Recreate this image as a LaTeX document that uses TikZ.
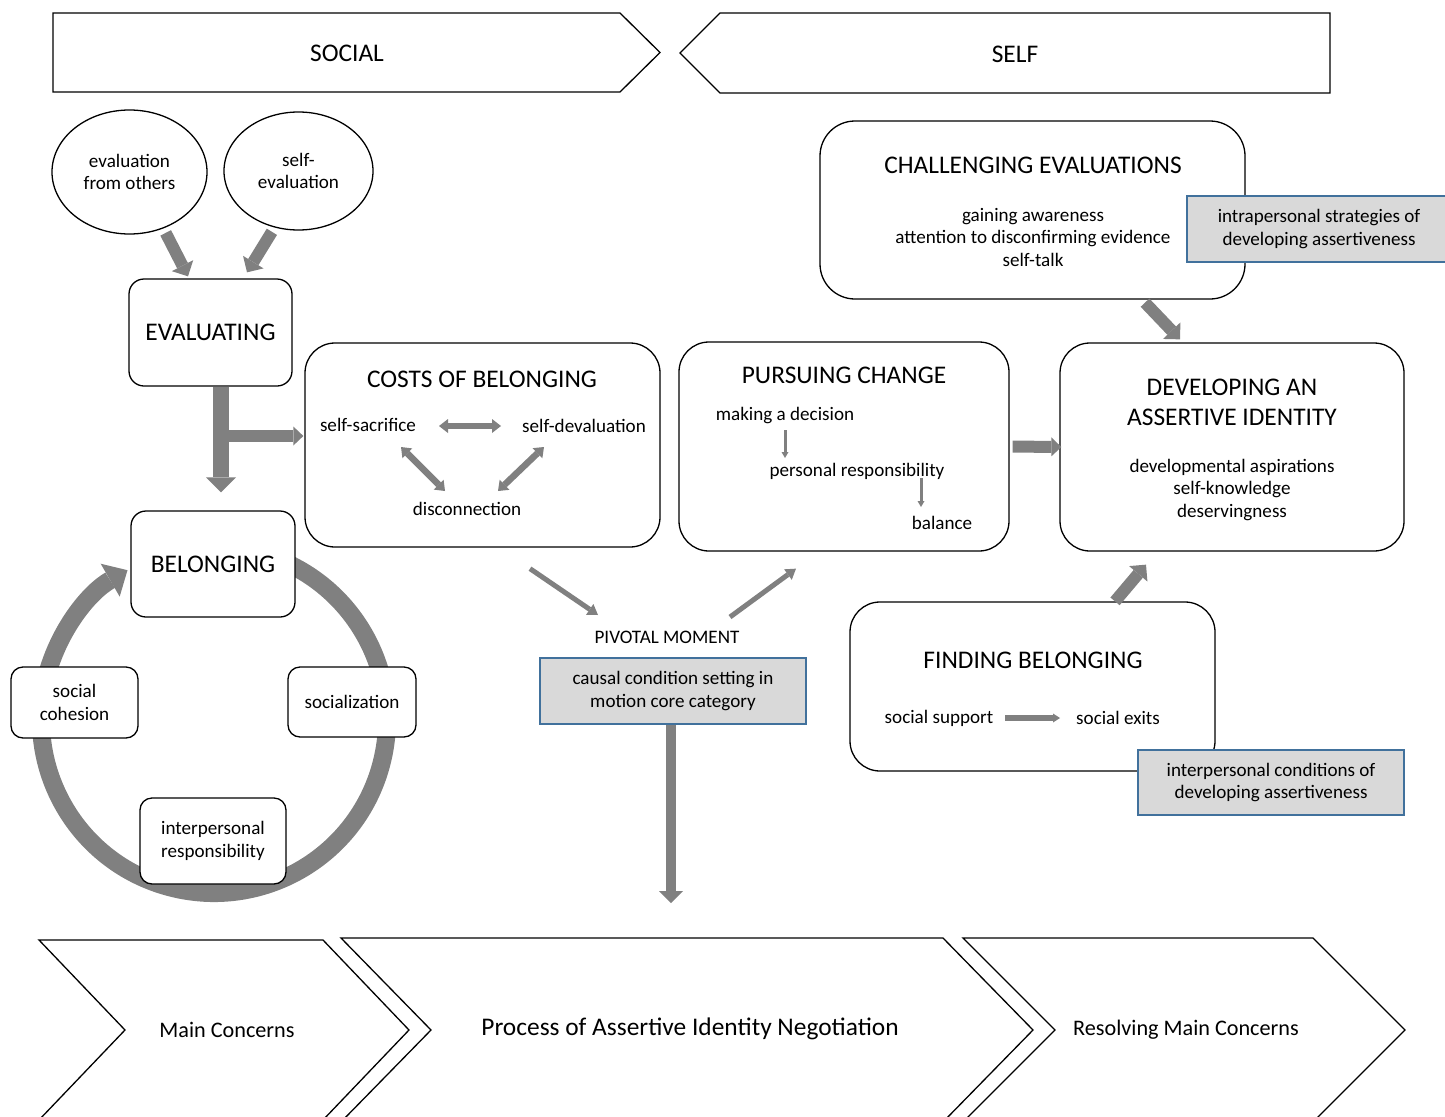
\documentclass[tikz,border=0pt]{standalone}
\usepackage{fontspec}
\setmainfont{Carlito}
\usetikzlibrary{arrows.meta,shapes.geometric,calc}
\definecolor{arrowgray}{HTML}{808080}
\definecolor{boxgray}{HTML}{D9D9D9}
\definecolor{boxblue}{HTML}{41719C}
\newcommand\bodyfont{\fontsize{19.1}{22.5}\selectfont}
\newcommand\titlefont{\fontsize{25.4}{30}\selectfont}
\newcommand\chevfont{\fontsize{22.2}{26}\selectfont}
\begin{document}
\begin{tikzpicture}[x=1pt,y=-1pt,
  outl/.style={draw=black,line width=1.3pt},
  rbox/.style={draw=black,line width=1.3pt,fill=white,rounded corners=#1,inner sep=0pt},
  rbox/.default=30pt,
  gbox/.style={draw=boxblue,line width=1.4pt,fill=boxgray,align=center,inner sep=0pt,font=\bodyfont},
  txt/.style={font=\bodyfont,align=center,inner sep=0pt},
  ttl/.style={font=\titlefont,align=center,inner sep=0pt},
  ctxt/.style={font=\chevfont,align=center,inner sep=0pt},
  fatarrow/.style={draw=arrowgray,line width=16pt,-{Triangle[length=15pt,width=30pt,line width=0pt]}},
  midarrow/.style={draw=arrowgray,line width=12pt,-{Triangle[length=12pt,width=24pt,line width=0pt]}},
  medarrow/.style={draw=arrowgray,line width=12pt,-{Triangle[length=10pt,width=19pt,line width=0pt]}},
  thinarrow/.style={draw=arrowgray,line width=5pt,-{Triangle[length=10pt,width=13pt,line width=0pt]}},
  downarrow/.style={draw=arrowgray,line width=10.5pt,-{Triangle[length=12pt,width=24pt,line width=0pt]}},
  tinyarrow/.style={draw=arrowgray,line width=3pt,-{Triangle[length=6pt,width=7pt,line width=0pt]}},
  flatarrow/.style={draw=arrowgray,line width=5.5pt,-{Triangle[length=7pt,width=9pt,line width=0pt]}},
  dblarrow/.style={draw=arrowgray,line width=6.5pt,{Triangle[length=9pt,width=14pt,line width=0pt]}-{Triangle[length=9pt,width=14pt,line width=0pt]}},
  ringarrow/.style={draw=arrowgray,line width=18pt,-{Triangle[length=20pt,width=38pt,line width=0pt]}}
]
\useasboundingbox (0,0) rectangle (1445,1116);
\clip (0,0) rectangle (1445,1116);

% ---------- top banners ----------
\draw[outl] (53,13) -- (620,13) -- (660,52.5) -- (620,92) -- (53,92) -- cycle;
\node[ttl] (social) at (347,53) {SOCIAL};
\draw[outl] (680,53) -- (720,13) -- (1330,13) -- (1330,93) -- (720,93) -- cycle;
\node[ttl] (self) at (1015,54) {SELF};

% ---------- bottom chevrons ----------
\draw[outl] (39,940) -- (323,940) -- (409,1030) -- (323,1120) -- (39,1120) -- (125,1030) -- cycle;
\draw[outl] (341,938) -- (943,938) -- (1033,1030) -- (943,1122) -- (341,1122) -- (431,1030) -- cycle;
\draw[outl] (963,938) -- (1313,938) -- (1405,1030) -- (1313,1122) -- (963,1122) -- (1055,1030) -- cycle;
\node[ctxt] (mainconc) at (227,1030) {Main Concerns};
\node[ttl] (process) at (690,1029) {Process of Assertive Identity Negotiation};
\node[ctxt] (resolving) at (1186,1030) {Resolving Main Concerns};

% ---------- ring ----------
\coordinate (ringc) at (214,720);
\draw[ringarrow] ([shift={(75:173pt)}]ringc) arc[start angle=75,end angle=-240,radius=173pt];

% ---------- left column ----------
\node[outl,ellipse,txt,minimum width=155pt,minimum height=124pt] (evo) at (129.5,172) {evaluation\\from others};
\node[outl,ellipse,txt,minimum width=149pt,minimum height=118pt] (evs) at (298.5,171) {self-\\evaluation};
\node[rbox=15pt,minimum width=163pt,minimum height=107pt,ttl] (evaluating) at (210.5,332.5) {EVALUATING};
\node[rbox=15pt,minimum width=164pt,minimum height=106pt,ttl] (belonging) at (213,564) {BELONGING};
\node[rbox=12pt,minimum width=127pt,minimum height=71pt,txt] (cohesion) at (74.5,702.5) {social\\cohesion};
\node[rbox=12pt,minimum width=128pt,minimum height=70pt,txt] (socialization) at (352,702) {socialization};
\node[rbox=12pt,minimum width=146pt,minimum height=86pt,txt] (interresp) at (213,841) {interpersonal\\responsibility};

% ---------- main boxes ----------
\node[rbox=30pt,minimum width=355pt,minimum height=204pt] (costs) at (482.5,445) {};
\node[ttl] (coststitle) at (482,379) {COSTS OF BELONGING};
\node[txt] (sacrifice) at (368,425) {self-sacrifice};
\node[txt] (devaluation) at (584,426) {self-devaluation};
\node[txt] (disconnection) at (467,509) {disconnection};

\node[rbox=30pt,minimum width=330pt,minimum height=209pt] (pursuing) at (844,446.5) {};
\node[ttl] (pursuingtitle) at (844,375) {PURSUING CHANGE};
\node[txt] (decision) at (785,416) {making a decision};
\node[txt] (responsibility) at (857,471) {personal responsibility};
\node[txt] (balance) at (942,523) {balance};

\node[rbox=30pt,minimum width=344pt,minimum height=208pt] (developing) at (1232,447) {};
\node[ttl] (devtitle) at (1232,402) {DEVELOPING AN\\ASSERTIVE IDENTITY};
\node[txt] (devitems) at (1232,490) {developmental aspirations\\self-knowledge\\deservingness};

\node[rbox=35pt,minimum width=425pt,minimum height=178pt] (challenging) at (1032.5,210) {};
\node[ttl] (chaltitle) at (1033,165) {CHALLENGING EVALUATIONS};
\node[txt] (chalitems) at (1033,237) {gaining awareness\\attention to disconfirming evidence\\self-talk};

\node[rbox=30pt,minimum width=365pt,minimum height=169pt] (finding) at (1032.5,686.5) {};
\node[ttl] (findtitle) at (1033,660) {FINDING BELONGING};
\node[txt] (support) at (939,718) {social support};
\node[txt] (exits) at (1118,718) {social exits};

% ---------- grey condition boxes ----------
\node[gbox,minimum width=264pt,minimum height=66pt] (intrapers) at (1319,229) {intrapersonal strategies of\\developing assertiveness};
\node[gbox,minimum width=266pt,minimum height=65pt] (interpers) at (1271,782.5) {interpersonal conditions of\\developing assertiveness};
\node[txt] (pivotal) at (667,637) {PIVOTAL MOMENT};
\node[gbox,minimum width=266pt,minimum height=66pt] (causal) at (673,691) {causal condition setting in\\motion core category};

% ---------- connectors ----------
\draw[midarrow,shorten <=5pt] (evo.-59) -- ([xshift=-22.5pt,yshift=2pt]evaluating.north);
\draw[midarrow,shorten <=5pt] (evs.-113) -- ([xshift=36.5pt,yshift=6pt]evaluating.north);
\draw[fatarrow,shorten >=18pt] ([xshift=10.5pt]evaluating.south) -- ([xshift=10.5pt]evaluating.south |- belonging.north);
\coordinate (split) at (221,436);
\draw[medarrow,shorten >=1pt] (split) -- (split -| costs.west);

\draw[dblarrow] ($(sacrifice.center)+(71,1)$) -- ($(devaluation.center)+(-83,0)$);
\draw[dblarrow] ($(sacrifice.center)+(33,22)$) -- ($(disconnection.center)+(-22,-18)$);
\draw[dblarrow] ($(devaluation.center)+(-40,21)$) -- ($(disconnection.center)+(31,-18)$);

\draw[tinyarrow] ($(decision.center)+(0,14)$) -- ($(responsibility.center)+(-72,-13)$);
\draw[tinyarrow] ($(responsibility.center)+(64,7)$) -- ($(balance.center)+(-21,-16)$);

\draw[medarrow,shorten <=3pt,shorten >=-2pt] (pursuing.east) -- (developing.west);
\draw[midarrow] ($(challenging.south)+(112.5,3)$) -- ($(developing.north)+(-52,-3)$);
\draw[midarrow] ($(finding.north)+(82.5,0)$) -- ($(developing.south)+(-86,13)$);
\draw[flatarrow] ($(support.center)+(66,0)$) -- ($(exits.center)+(-58,0)$);

\draw[thinarrow] ($(costs.south)+(47.5,21)$) -- ($(pivotal.center)+(-69,-22)$);
\draw[thinarrow] ($(pivotal.center)+(63,-20)$) -- ($(pursuing.south)+(-48,17)$);
\coordinate (pivotend) at (671,903);
\draw[downarrow] ([xshift=-2pt]causal.south) -- (pivotend);
\end{tikzpicture}
\end{document}
